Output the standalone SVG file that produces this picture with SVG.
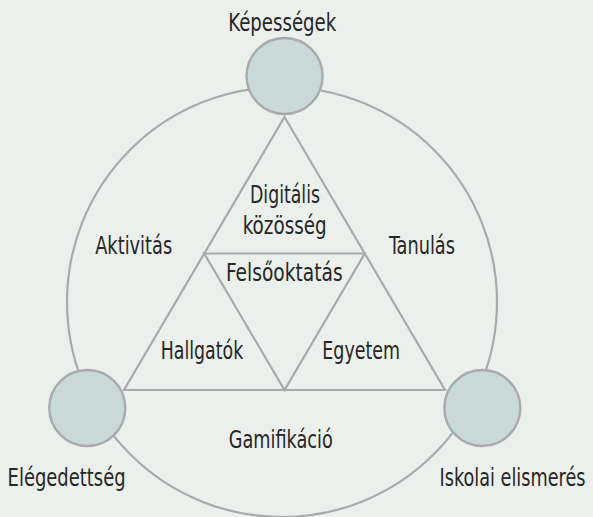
<svg xmlns="http://www.w3.org/2000/svg" width="593" height="517" viewBox="0 0 593 517">
  <style>
    .bg { fill: #ecf0ed; }
    .line { fill: none; stroke: #a9aaad; stroke-width: 2.2; }
    .node { fill: #c9d9d7; stroke: #a9aaad; stroke-width: 2.4; }
    text { font-family: "Liberation Sans Narrow", "DejaVu Sans Condensed", "Liberation Sans", sans-serif; font-size: 25px; fill: #262626; text-anchor: middle; }
  </style>
  <rect class="bg" x="0" y="0" width="593" height="517"/>
  <g id="connectors">
    <circle class="line" cx="282" cy="302" r="215"/>
    <text x="133.7" y="254" textLength="77" lengthAdjust="spacingAndGlyphs">Aktivitás</text>
    <text x="422" y="254" textLength="66" lengthAdjust="spacingAndGlyphs">Tanulás</text>
    <text x="280.8" y="448" textLength="104" lengthAdjust="spacingAndGlyphs">Gamifikáció</text>
  </g>
  <g id="triangle">
    <polygon class="line" points="284.5,117 445,390 124,390"/>
    <polygon class="line" points="204.2,253.5 364.8,253.5 284.5,390"/>
    <text x="285" y="203" textLength="70" lengthAdjust="spacingAndGlyphs">Digitális</text>
    <text x="284.7" y="234" textLength="84" lengthAdjust="spacingAndGlyphs">közösség</text>
    <text x="284.3" y="280.5" textLength="116.7" lengthAdjust="spacingAndGlyphs">Felsőoktatás</text>
    <text x="202" y="359" textLength="82.6" lengthAdjust="spacingAndGlyphs">Hallgatók</text>
    <text x="361.2" y="359" textLength="77.7" lengthAdjust="spacingAndGlyphs">Egyetem</text>
  </g>
  <g id="node-kepessegek">
    <circle class="node" cx="284.6" cy="76" r="38"/>
    <text x="282.3" y="31" textLength="108" lengthAdjust="spacingAndGlyphs">Képességek</text>
  </g>
  <g id="node-elegedettseg">
    <circle class="node" cx="87.3" cy="408" r="38"/>
    <text x="66.6" y="486" textLength="118" lengthAdjust="spacingAndGlyphs">Elégedettség</text>
  </g>
  <g id="node-iskolai-elismeres">
    <circle class="node" cx="482.3" cy="408" r="38"/>
    <text transform="translate(512.5 486) scale(0.8 1)" x="0" y="0" textLength="182.5" lengthAdjust="spacingAndGlyphs">Iskolai elismerés</text>
  </g>
</svg>
